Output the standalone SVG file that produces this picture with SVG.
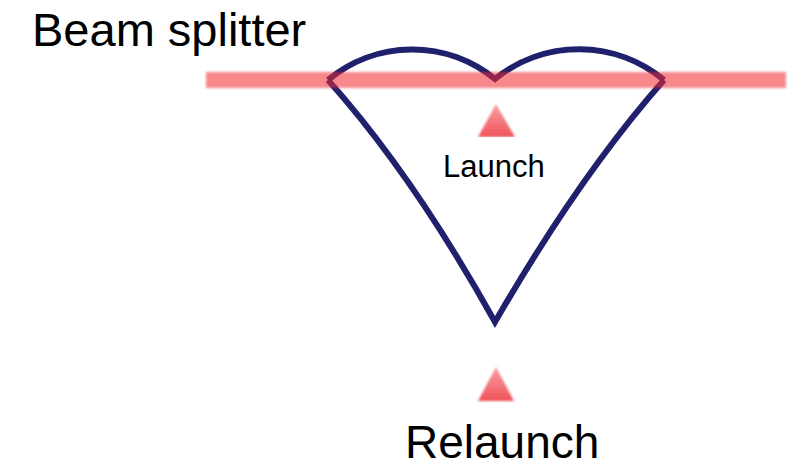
<svg xmlns="http://www.w3.org/2000/svg" width="795" height="468" viewBox="0 0 795 468">
  <defs>
    <filter id="soft" x="-10%" y="-50%" width="120%" height="200%">
      <feGaussianBlur stdDeviation="1"/>
    </filter>
    <linearGradient id="tri" x1="0" y1="0" x2="0" y2="1">
      <stop offset="0" stop-color="#f7a0a3"/>
      <stop offset="1" stop-color="#f0545a"/>
    </linearGradient>
    <style>
      .lbl { font-family: "Liberation Sans", Arial, sans-serif; fill: #000; }
      .path { fill: none; stroke: #20216c; stroke-width: 6; stroke-linejoin: miter; }
      .beam { fill: rgb(240,40,50); fill-opacity: 0.55; }
      .tri { fill: url(#tri); }
    </style>
  </defs>
  <rect width="795" height="468" fill="#fff"/>
  <g id="connectors">
    <path class="path" d="M 328 80 A 131 131 0 0 1 495 79 A 133 133 0 0 1 664 80"/>
    <path class="path" d="M 328 80 Q 413 175 495 322 Q 580 175 664 80"/>
  </g>
  <g id="beam-splitter">
    <rect class="beam" x="206" y="72" width="580" height="16" filter="url(#soft)"/>
    <text class="lbl" x="32" y="46" font-size="47">Beam splitter</text>
  </g>
  <g id="launch">
    <polygon class="tri" points="496,104 515,137 478,137" filter="url(#soft)"/>
    <rect x="424" y="137" width="142" height="59" fill="#fff"/>
    <text class="lbl" x="443" y="177" font-size="31">Launch</text>
  </g>
  <g id="relaunch">
    <polygon class="tri" points="496,367 514,401 478,401" filter="url(#soft)"/>
    <text class="lbl" x="405" y="458" font-size="46">Relaunch</text>
  </g>
</svg>
